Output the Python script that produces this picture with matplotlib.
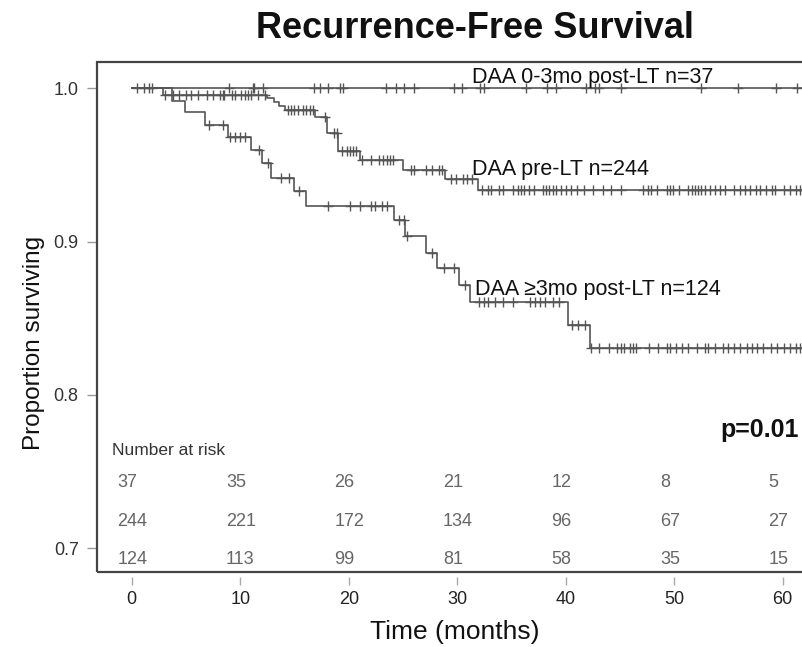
import numpy as np
import matplotlib
matplotlib.use("Agg")
import matplotlib.pyplot as plt
from matplotlib.patches import Rectangle

plt.rcParams['font.family'] = ['Liberation Sans', 'DejaVu Sans']

# Kaplan-Meier steps (time in months, proportion surviving)
early_t = [0, 63.5]
early_s = [1.0, 1.0]
early_cens = [0.5, 1.1, 1.6, 1.9, 9.0, 11.2, 11.3, 12.1, 16.8, 17.4, 18.1, 19.2, 19.5,
              23.4, 24.4, 25.1, 26.0, 29.7, 30.4, 32.1, 32.5, 36.3, 38.3, 39.1, 41.9,
              42.7, 43.1, 45.1, 52.5, 55.9, 59.4, 61.3]

pre_t = [0, 2.9, 12.5, 13.1, 13.6, 14.1, 16.9, 18.0, 19.0, 21.0, 25.0, 28.9, 31.9, 63.5]
pre_s = [1.0, 0.9959, 0.9936, 0.991, 0.9885, 0.9858, 0.9815, 0.9706, 0.9593, 0.9532,
         0.9467, 0.9406, 0.934, 0.934]
pre_cens = [3.1, 3.8, 4.4, 5.0, 5.5, 6.1, 6.9, 7.5, 8.1, 8.4, 8.5, 9.2, 9.5, 10.1, 10.4,
            10.7, 11.0, 11.6, 12.3, 14.4, 14.7, 15.0, 15.3, 15.8, 16.1, 16.4, 16.7, 17.8,
            18.6, 18.9, 19.4, 19.8, 20.1, 20.4, 20.7, 21.2, 22.1, 22.8, 23.2, 23.5, 23.8,
            24.1, 25.7, 26.0, 27.1, 27.7, 28.3, 28.6, 29.4, 29.9, 30.5, 30.9, 31.4,
            32.3, 32.8, 33.1, 33.9, 34.2, 35.1, 35.6, 35.9, 36.2, 36.6, 37.1, 37.9, 38.2,
            38.5, 38.8, 39.1, 39.6, 40.0, 40.5, 41.0, 41.7, 42.5, 43.4, 44.2, 45.1, 47.1,
            47.6, 47.9, 48.4, 49.3, 49.6, 49.9, 50.4, 51.3, 51.6, 51.9, 52.2, 52.5, 52.8,
            53.3, 53.8, 54.2, 54.7, 55.5, 56.1, 56.5, 57.0, 57.5, 57.9, 58.5, 59.0, 59.3,
            60.1, 60.7, 61.2, 61.6, 61.9]

late_t = [0, 3.7, 4.9, 6.8, 8.9, 11.0, 12.0, 12.8, 15.0, 16.1, 24.2, 25.2, 27.1, 28.1,
          30.2, 31.2, 40.2, 42.2, 63.5]
late_s = [1.0, 0.9919, 0.9843, 0.976, 0.968, 0.9595, 0.951, 0.9415, 0.9329, 0.923,
          0.914, 0.9035, 0.8926, 0.8828, 0.8719, 0.8603, 0.8458, 0.8305, 0.8305]
late_cens = [7.1, 8.4, 9.1, 9.5, 10.0, 10.4, 11.7, 12.6, 13.8, 14.5, 15.4, 18.1, 20.1,
             21.0, 22.1, 22.4, 23.1, 23.5, 24.6, 25.1, 25.4, 27.7, 28.8, 29.7, 30.7,
             32.0, 32.5, 32.8, 33.5, 34.2, 35.1, 36.7, 37.2, 37.6, 38.1, 38.8, 39.4,
             40.6, 41.1, 41.8, 42.3, 43.1, 44.0, 44.7, 45.1, 45.4, 45.9, 46.2, 46.5,
             47.7, 48.5, 49.3, 49.6, 50.2, 50.7, 51.3, 52.1, 52.8, 53.1, 53.8, 54.5,
             55.0, 55.5, 56.1, 56.7, 57.2, 57.6, 58.2, 58.9, 59.5, 60.1, 60.7, 61.2, 61.6]

risk_times = [0, 10, 20, 30, 40, 50, 60]
risk_early = [37, 35, 26, 21, 12, 8, 5]
risk_pre = [244, 221, 172, 134, 96, 67, 27]
risk_late = [124, 113, 99, 81, 58, 35, 15]


def step_value(times, surv, t):
    idx = np.searchsorted(times, t, side='right') - 1
    return np.asarray(surv)[idx]


fig = plt.figure(figsize=(8.03, 6.47), dpi=100)
ax = fig.add_axes([0.1204, 0.1164, 0.8979, 0.7882])

line_col = '#555555'
for t, s, c in [(early_t, early_s, early_cens), (pre_t, pre_s, pre_cens),
                (late_t, late_s, late_cens)]:
    ax.step(t, s, where='post', color=line_col, lw=1.2)
    ax.plot(c, step_value(t, s, c), '+', color=line_col, ms=6.5, mew=1.0)

ax.set_xlim(-3.23, 63.23)
ax.set_ylim(0.6847, 1.01735)
ax.set_xticks(risk_times)
ax.set_yticks([0.7, 0.8, 0.9, 1.0])
ax.set_yticklabels(['0.7', '0.8', '0.9', '1.0'])

# frame drawn as a box, x ticks sit a bit below it (R style)
for sp in ax.spines.values():
    sp.set_visible(False)
ax.spines['bottom'].set_position(('outward', 4))
ax.add_patch(Rectangle((0, 0), 1, 1, transform=ax.transAxes, fill=False,
                       edgecolor='#444444', lw=1.6, clip_on=False, zorder=5))
ax.tick_params(axis='x', length=6, width=1, color='#aaaaaa', pad=4,
               labelsize=13, labelcolor='#222222')
ax.tick_params(axis='y', length=7, width=1, color='#999999', pad=6,
               labelsize=13, labelcolor='#333333')

ax.set_xlabel('Time (months)', fontsize=19, color='#111111')
ax.xaxis.set_label_coords(0.496, -0.094)
ax.set_ylabel('Proportion surviving', fontsize=17.5, color='#111111')
ax.yaxis.set_label_coords(-0.0717, 0.448)

fig.text(475 / 803, 1 - 28 / 647, 'Recurrence-Free Survival', fontsize=26,
         fontweight='bold', ha='center', va='center', color='#111111')

ax.text(31.4, 1.0034, 'DAA 0-3mo post-LT n=37', fontsize=15.5, color='#111111')
ax.text(31.4, 0.9434, 'DAA pre-LT n=244', fontsize=15.5, color='#111111')
ax.text(31.6, 0.865, 'DAA \u22653mo post-LT n=124', fontsize=15.5, color='#111111')
ax.text(54.3, 0.7725, 'p=0.01', fontsize=18, fontweight='bold', color='#111111')

ax.text(-1.8, 0.7608, 'Number at risk', fontsize=12.5, color='#333333')
for row, yv in [(risk_early, 0.740), (risk_pre, 0.7147), (risk_late, 0.6895)]:
    for t, n in zip(risk_times, row):
        ax.text(t - 1.3, yv, str(n), fontsize=13, color='#666666', ha='left')

fig.savefig('out.png', dpi=100)
